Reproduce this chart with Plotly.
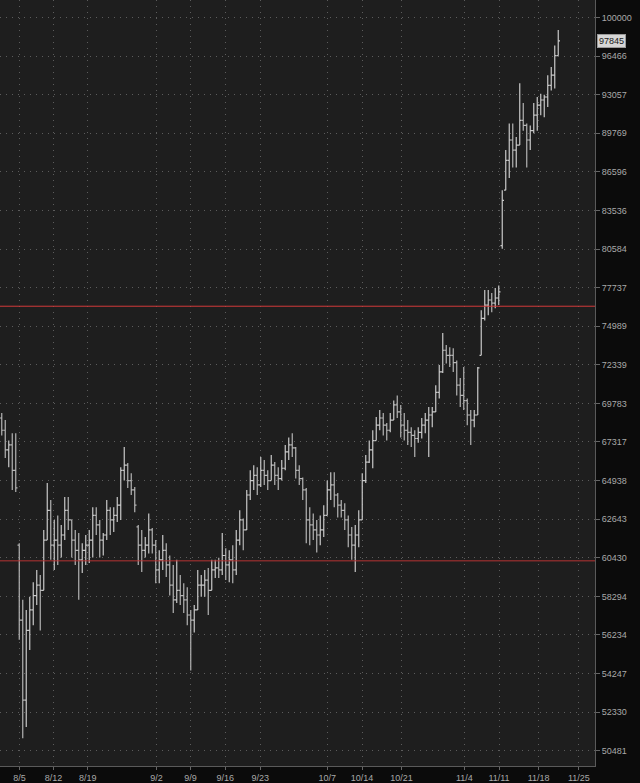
import numpy as np
import plotly.graph_objects as go

# Half-day OHLC bars (weekends collapsed)
opens = [68839, 68057, 66821, 67135, 65565, 61141, 57016, 52916, 56472, 57560,
         58338, 58902, 58620, 61434, 63163, 61141, 61434, 61141, 61726, 63163,
         62602, 61434, 60849, 60312, 60849, 61141, 61434, 62860, 62310, 61434,
         61726, 63163, 62602, 62860, 63466, 65565, 65879, 64937, 64374, 62193,
         61141, 60849, 61141, 62018, 61141, 59748, 60312, 60849, 60030, 58902,
         58104, 58620, 58338, 58104, 57288, 57016, 57560, 58902, 58902, 59184,
         58620, 59748, 59860, 59748, 60557, 60030, 60312, 59748, 61434, 62602,
         62018, 64071, 64937, 65251, 64677, 65565, 65251, 64937, 65879, 65251,
         65062, 65690, 66695, 67135, 66946, 65565, 65062, 64374, 62602, 62310,
         62018, 61726, 62018, 62860, 64374, 64677, 64071, 63466, 63163, 62602,
         61726, 61141, 61726, 62602, 64937, 66067, 66821, 67406, 68383, 68839,
         68383, 68057, 68709, 69685, 69230, 68383, 68057, 67927, 67731, 67536,
         67927, 68383, 68709, 69034, 69230, 70510, 71860, 73330, 72980, 72980,
         72490, 70982, 70307, 69970, 69034, 68709, 69034, 72980, 75540, 76483,
         76845, 76628, 76990, 80849, 85133, 87531, 89208, 88370, 88788, 90860,
         90426, 89208, 89991, 91294, 92163, 92597, 92857, 93865, 94765, 96501]
highs = [69165, 68709, 67406, 67862, 67862, 61258, 58104, 57560, 58267, 59071,
         59748, 59466, 62018, 64799, 63768, 62602, 62860, 62310, 63950, 63950,
         62602, 62018, 61843, 61258, 61726, 62018, 63344, 63344, 62602, 61843,
         63768, 63344, 63344, 63950, 65753, 67009, 66004, 65376, 64556, 62310,
         62018, 61609, 62981, 62135, 61434, 60849, 61726, 61258, 60557, 60030,
         60312, 59466, 59015, 58789, 57560, 57832, 59748, 59466, 59748, 59860,
         60312, 60312, 60424, 61843, 60966, 60849, 61141, 62018, 63163, 62678,
         64374, 65565, 65879, 65753, 66381, 66193, 65565, 66507, 66067, 65753,
         66193, 67135, 67601, 67862, 67009, 65879, 65125, 64496, 63344, 62981,
         62602, 62860, 63466, 64937, 65439, 65439, 64193, 63768, 63587, 62860,
         62193, 62310, 63163, 65376, 66507, 67406, 68057, 68904, 69360, 69165,
         68513, 69165, 69970, 70307, 69685, 69165, 68709, 68253, 68057, 68253,
         68839, 69165, 69555, 69555, 70982, 72332, 74520, 73680, 73540, 73470,
         72630, 71455, 72197, 70105, 69360, 69360, 72197, 76120, 77570, 77570,
         77353, 77715, 77884, 85133, 88370, 90600, 90600, 89459, 94045, 92336,
         90600, 90426, 92336, 92857, 93145, 93057, 94765, 95485, 97434, 98834]
lows = [67731, 66318, 65753, 64374, 64253, 55977, 51076, 51613, 55452, 56744,
        57832, 56472, 58620, 61434, 60312, 59748, 60030, 60440, 61434, 62018,
        60440, 60030, 58104, 59579, 60030, 60142, 60440, 61726, 60440, 60557,
        61434, 61726, 61901, 62485, 62602, 64937, 64496, 64071, 63042, 60030,
        59635, 60440, 60674, 60674, 59015, 59015, 59748, 59353, 58338, 57397,
        57940, 57832, 57397, 56744, 54402, 56363, 57560, 58267, 58267, 57288,
        58620, 59297, 59297, 59466, 59184, 59071, 59015, 59466, 61141, 60849,
        62018, 63768, 64374, 64071, 64556, 64677, 64374, 64937, 64677, 64374,
        64937, 65565, 66193, 66381, 65062, 64677, 63768, 61258, 61141, 61434,
        60732, 61141, 61609, 62860, 63768, 63344, 62739, 62739, 62018, 61025,
        60312, 59635, 61025, 62602, 64799, 66004, 65690, 67406, 68057, 67731,
        67406, 67927, 68709, 68839, 67601, 67406, 67135, 67009, 66381, 67276,
        67536, 67862, 66381, 68253, 69230, 70105, 71792, 72420, 72197, 71860,
        70307, 69555, 69360, 68383, 67135, 68253, 69034, 72980, 75395, 75758,
        75975, 76265, 76483, 80615, 85133, 86103, 86945, 86945, 88788, 89991,
        86945, 88370, 89769, 89991, 91294, 91120, 91989, 93415, 93595, 96501]
closes = [68057, 66821, 67135, 65565, 64496, 57016, 52916, 56472, 57560, 58338,
          58902, 58620, 61434, 63163, 61141, 61434, 61141, 61726, 63163, 62602,
          61434, 60849, 60312, 60849, 61141, 61434, 62860, 62310, 61434, 61726,
          63163, 62602, 62860, 63466, 65565, 65879, 64937, 64374, 63466, 61141,
          60849, 61141, 62018, 61141, 59748, 60312, 60849, 60030, 58902, 58104,
          58620, 58338, 58104, 57288, 57016, 57560, 58902, 58902, 59184, 58620,
          59748, 59860, 59748, 60557, 60030, 60312, 59748, 61434, 62602, 62018,
          64071, 64937, 65251, 64677, 65565, 65251, 64937, 65879, 65251, 65062,
          65690, 66695, 67135, 66946, 65565, 65062, 64374, 62602, 62310, 62018,
          61726, 62018, 62860, 64374, 64677, 64071, 63466, 63163, 62602, 61726,
          61141, 61726, 62602, 64937, 66067, 66821, 67406, 68383, 68839, 68383,
          68057, 68709, 69685, 69230, 68383, 68057, 67927, 67731, 67536, 67927,
          68383, 68709, 69034, 69230, 70510, 71860, 73330, 72980, 72980, 72490,
          70982, 70307, 69970, 69034, 68709, 69034, 72130, 75540, 76483, 76845,
          76628, 76990, 77425, 84325, 87531, 89208, 88370, 88788, 90860, 90426,
          89208, 89991, 91294, 92163, 92597, 92857, 93865, 94765, 96501, 97845]

# Weekly date labels and their positions on the bar axis
date_labels = ["8/5", "8/12", "8/19", "9/2", "9/9", "9/16", "9/23",
               "10/7", "10/14", "10/21", "11/4", "11/11", "11/18", "11/25"]
date_ticks = [5.07, 14.76, 24.56, 44.21, 53.93, 63.84, 73.84,
              93.01, 102.93, 114.24, 132.16, 142.07, 153.41, 164.87]

price_ticks = [50481, 52330, 54247, 56234, 58294, 60430, 62643, 64938, 67317,
               69783, 72339, 74989, 77737, 80584, 83536, 86596, 89769, 93057,
               96466, 100000]

red_levels = [76401, 60257]
red_colors = ["#d23a3a", "#b53434"]

bars = np.arange(len(closes))
x_range = [-0.5, 169.5]

fig = go.Figure()
for lvl, col in zip(red_levels, red_colors):
    fig.add_trace(go.Scatter(x=x_range, y=[lvl, lvl], mode="lines",
                             line=dict(color=col, width=1), hoverinfo="skip",
                             cliponaxis=True))

fig.add_trace(go.Ohlc(
    x=bars, open=opens, high=highs, low=lows, close=closes,
    increasing=dict(line=dict(color="#c8c8c8", width=1.2)),
    decreasing=dict(line=dict(color="#b4b4b4", width=1.2)),
    tickwidth=0.5, hoverinfo="skip"))

fig.add_annotation(xref="paper", x=1, yref="y", y=np.log10(closes[-1]),
                   text=f"{closes[-1]:.0f}", showarrow=False, xanchor="left",
                   xshift=2, bgcolor="#d6d6d6", bordercolor="#9a9a9a",
                   borderwidth=1, borderpad=1,
                   font=dict(color="#1a1a1a", size=9))

grid_dash = "1px,5px"
fig.update_layout(
    width=640, height=783, autosize=False,
    margin=dict(l=0, r=45, t=0, b=17),
    paper_bgcolor="#0b0b0b", plot_bgcolor="#1e1e1e",
    font=dict(family="Liberation Sans, Arial, sans-serif", size=9, color="#a9a9a9"),
    showlegend=False, hovermode=False,
    xaxis=dict(range=x_range, tickvals=date_ticks, ticktext=date_labels,
               showgrid=True, gridcolor="#5c5c5c", griddash=grid_dash, gridwidth=1,
               ticks="outside", ticklen=3, tickcolor="#666666",
               showline=True, linecolor="#5a5a5a", zeroline=False,
               rangeslider=dict(visible=False), fixedrange=True),
    yaxis=dict(type="log", range=[np.log10(49766), np.log10(101646)],
               tickvals=price_ticks, ticktext=[str(v) for v in price_ticks],
               side="right", showgrid=True, gridcolor="#5c5c5c", griddash=grid_dash,
               gridwidth=1, ticks="outside", ticklen=4, tickcolor="#666666",
               showline=True, linecolor="#5a5a5a", zeroline=False,
               fixedrange=True),
)

fig.write_html("out.html", config={"displayModeBar": False})

# remove the browser's default page margin so the figure sits at (0, 0)
with open("out.html", "r", encoding="utf-8") as f:
    page = f.read()
page = page.replace("<head>", "<head><style>html,body{margin:0;padding:0;background:#0b0b0b;}</style>", 1)
with open("out.html", "w", encoding="utf-8") as f:
    f.write(page)
